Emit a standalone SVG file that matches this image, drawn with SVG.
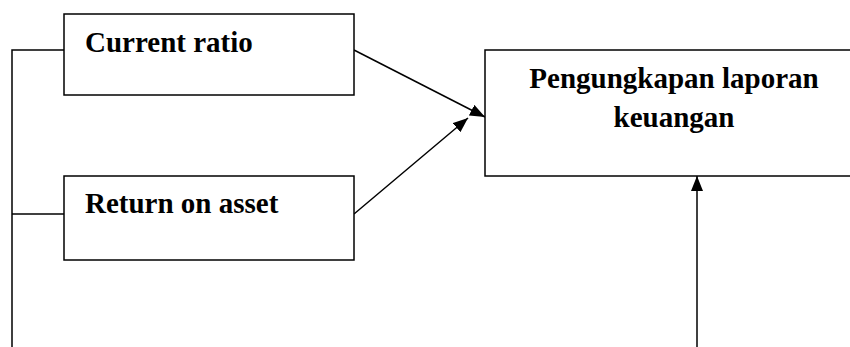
<svg xmlns="http://www.w3.org/2000/svg" width="850" height="347" viewBox="0 0 850 347">
<style>
.box{fill:#fff;stroke:#000;stroke-width:1.5}
.t{font-family:"Liberation Serif","Times New Roman",serif;font-weight:bold;font-size:29px;fill:#000}
.c{fill:none;stroke:#000;stroke-width:1.5}
</style>
<defs>
<marker id="ah" markerWidth="15" markerHeight="12" refX="15" refY="6" orient="auto" markerUnits="userSpaceOnUse">
<path d="M0,0 L15,6 L0,12 Z" fill="#000"/>
</marker>
</defs>
<rect width="850" height="347" fill="#fff"/>
<g id="connectors">
<polyline class="c" points="64,50 12,50 12,347"/>
<line class="c" x1="12" y1="214" x2="64" y2="214"/>
<line class="c" x1="354" y1="50" x2="485" y2="117" marker-end="url(#ah)"/>
<line class="c" x1="354" y1="214" x2="468" y2="118" marker-end="url(#ah)"/>
<line class="c" x1="697" y1="347" x2="697" y2="176" marker-end="url(#ah)"/>
</g>
<g id="current-ratio">
<rect class="box" x="64" y="14" width="290" height="81"/>
<text class="t" x="85" y="52">Current ratio</text>
</g>
<g id="return-on-asset">
<rect class="box" x="64" y="176" width="290" height="84"/>
<text class="t" x="85" y="213">Return on asset</text>
</g>
<g id="pengungkapan">
<rect class="box" x="485" y="50" width="380" height="126"/>
<text class="t" x="674" y="88" text-anchor="middle">Pengungkapan laporan</text>
<text class="t" x="674" y="127" text-anchor="middle">keuangan</text>
</g>
</svg>
